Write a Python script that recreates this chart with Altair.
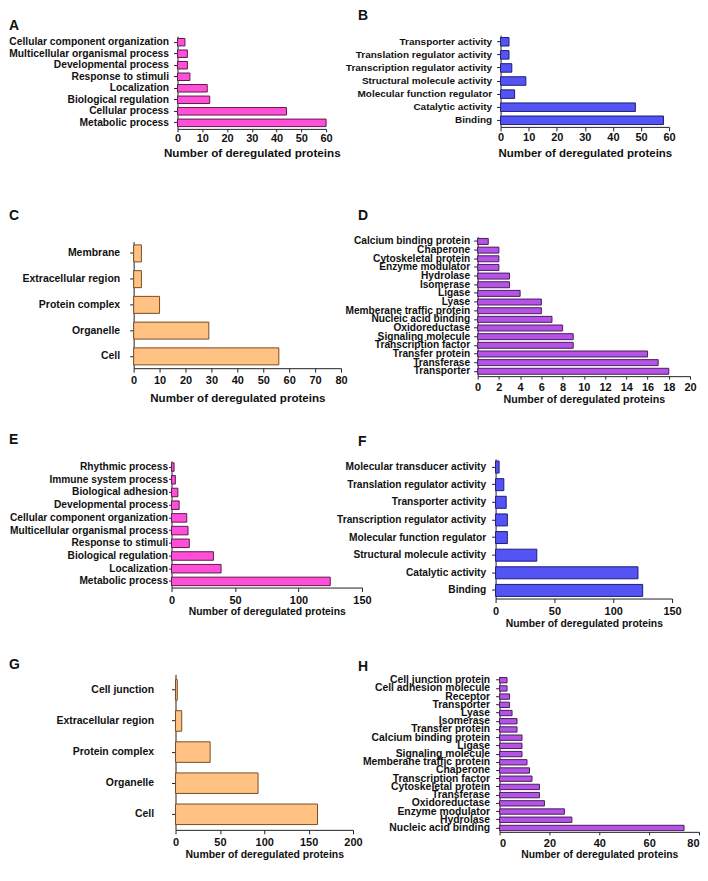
import altair as alt
import pandas as pd

# ---------------- data ----------------
a_cats = ["Cellular component organization", "Multicellular organismal process", "Developmental process",
          "Response to stimuli", "Localization", "Biological regulation", "Cellular process", "Metabolic process"]
a_vals = [3, 4, 4, 5, 12, 13, 44, 60]
a_ticks = [0, 10, 20, 30, 40, 50, 60]

b_cats = ["Transporter activity", "Translation regulator activity", "Transcription regulator activity",
          "Structural molecule activity", "Molecular function regulator", "Catalytic activity", "Binding"]
b_vals = [3, 3, 4, 9, 5, 48, 58]
b_ticks = [0, 10, 20, 30, 40, 50, 60]

c_cats = ["Membrane", "Extracellular region", "Protein complex", "Organelle", "Cell"]
c_vals = [3, 3, 10, 29, 56]
c_ticks = [0, 10, 20, 30, 40, 50, 60, 70, 80]

d_cats = ["Calcium binding protein", "Chaperone", "Cytoskeletal protein", "Enzyme modulator", "Hydrolase",
          "Isomerase", "Ligase", "Lyase", "Memberane traffic protein", "Nucleic acid binding", "Oxidoreductase",
          "Signaling molecule", "Transcription factor", "Transfer protein", "Transferase", "Transporter"]
d_vals = [1, 2, 2, 2, 3, 3, 4, 6, 6, 7, 8, 9, 9, 16, 17, 18]
d_ticks = [0, 2, 4, 6, 8, 10, 12, 14, 16, 18, 20]

e_cats = ["Rhythmic process", "Immune system process", "Biological adhesion", "Developmental process",
          "Cellular component organization", "Multicellular organismal process", "Response to stimuli",
          "Biological regulation", "Localization", "Metabolic process"]
e_vals = [2, 3, 5, 6, 12, 13, 14, 33, 39, 125]
e_ticks = [0, 50, 100, 150]

f_cats = ["Molecular transducer activity", "Translation regulator activity", "Transporter activity",
          "Transcription regulator activity", "Molecular function regulator", "Structural molecule activity",
          "Catalytic activity", "Binding"]
f_vals = [3, 7, 9, 10, 10, 35, 121, 125]
f_ticks = [0, 50, 100, 150]

g_cats = ["Cell junction", "Extracellular region", "Protein complex", "Organelle", "Cell"]
g_vals = [2, 7, 39, 93, 160]
g_ticks = [0, 50, 100, 150, 200]

h_cats = ["Cell junction protein", "Cell adhesion molecule", "Receptor", "Transporter", "Lyase", "Isomerase",
          "Transfer protein", "Calcium binding protein", "Ligase", "Signaling molecule",
          "Memberane traffic protein", "Chaperone", "Transcription factor", "Cytoskeletal protein",
          "Transferase", "Oxidoreductase", "Enzyme modulator", "Hydrolase", "Nucleic acid binding"]
h_vals = [3, 3, 4, 4, 5, 7, 7, 9, 9, 9, 11, 12, 13, 16, 16, 18, 26, 29, 74]
h_ticks = [0, 20, 40, 60, 80]

x_title_1 = "Number of deregulated proteins"
x_title_2 = "Number of deregulated  proteins"

FONT = "Liberation Sans"
PINK, PINK_S = "#FF4FD8", "#5C1A4E"
BLUE, BLUE_S = "#5454F4", "#1C1C7A"
ORANGE, ORANGE_S = "#FFC283", "#7A4B22"
PURPLE, PURPLE_S = "#B453E6", "#4A1C5C"

LEFT_W, RIGHT_W = 229, 222


def panel(letter, cats, vals, ticks, xtitle, fill, stroke, cell_w, cell_h, xr, yr, dx, dy,
          lsize=10.3, xtsize=11.5, pin=0.32, pout=0.3, tick=4, lpad=2, tpad=5, ypad=2, ytick=4,
          flush=False):
    df = pd.DataFrame({"category": cats, "value": vals})
    return alt.Chart(df).mark_bar(fill=fill, stroke=stroke, strokeWidth=1).encode(
        x=alt.X("value:Q", scale=alt.Scale(domain=[ticks[0], ticks[-1]], nice=False, range=xr),
                axis=alt.Axis(values=ticks, title=xtitle, grid=False, format="d",
                              labelFont=FONT, labelFontWeight="bold", labelFontSize=11,
                              labelColor="#111111", tickSize=tick, tickColor="#222222",
                              domainColor="#222222", labelPadding=lpad, titlePadding=tpad,
                              titleFont=FONT, titleFontWeight="bold", titleFontSize=xtsize,
                              titleColor="#111111", labelFlush=flush)),
        y=alt.Y("category:N", sort=cats,
                scale=alt.Scale(paddingInner=pin, paddingOuter=pout, range=yr),
                axis=alt.Axis(title=None, labelFont=FONT, labelFontWeight="bold", labelFontSize=lsize,
                              labelColor="#111111", labelLimit=400, tickSize=ytick, tickColor="#222222",
                              domainColor="#222222", labelPadding=ypad, offset=-xr[0])),
        tooltip=["category", "value"],
    ).properties(width=cell_w, height=cell_h,
                 title=alt.TitleParams(letter, anchor="start", frame="group", dx=dx, dy=dy, offset=0,
                                       font=FONT, fontSize=14, fontWeight="bold", color="#111111"))


# cells: left column starts at x=132, right column at x=477 (page pixels)
pA = panel("A", a_cats, a_vals, a_ticks, x_title_1, PINK, PINK_S, LEFT_W, 94, [44, 193], [1, 94],
           -125, -2, lsize=10.3, xtsize=11.7, pin=0.35, pout=0.2, tick=3, lpad=1, tpad=4, ypad=5)
pB = panel("B", b_cats, b_vals, b_ticks, x_title_1, BLUE, BLUE_S, RIGHT_W, 92, [23, 192], [0, 92],
           -120, -12, lsize=10, xtsize=11.5, pin=0.35, pout=0.18, tick=4, lpad=1, tpad=5, ypad=5)
pC = panel("C", c_cats, c_vals, c_ticks, x_title_1, ORANGE, ORANGE_S, LEFT_W, 164, [0, 208], [37, 164],
           -125, 18, lsize=10.5, xtsize=11.6, pin=0.34, pout=0.13, tick=4, lpad=2, tpad=7, ypad=10)
pD = panel("D", d_cats, d_vals, d_ticks, x_title_1, PURPLE, PURPLE_S, RIGHT_W, 172, [0, 213], [32, 172],
           -120, 18, lsize=10.2, xtsize=10.7, pin=0.31, pout=0.22, tick=3, lpad=2, tpad=2, ypad=4)
pE = panel("E", e_cats, e_vals, e_ticks, x_title_2, PINK, PINK_S, LEFT_W, 136, [38, 229], [9, 136],
           -125, -5, lsize=10.2, xtsize=10.4, pin=0.33, pout=0.15, tick=4, lpad=3, tpad=1, ypad=1, ytick=3)
pF = panel("F", f_cats, f_vals, f_ticks, x_title_2, BLUE, BLUE_S, RIGHT_W, 147, [18, 195], [7, 147],
           -120, -3, lsize=10.2, xtsize=10.4, pin=0.32, pout=0.12, tick=4, lpad=3, tpad=2, ypad=6)
pG = panel("G", g_cats, g_vals, g_ticks, x_title_2, ORANGE, ORANGE_S, LEFT_W, 156, [42, 220], [0, 156],
           -125, -2, lsize=10.5, xtsize=10.5, pin=0.34, pout=0.17, tick=4, lpad=3, tpad=2, ypad=18)
pH = panel("H", h_cats, h_vals, h_ticks, x_title_2, PURPLE, PURPLE_S, RIGHT_W, 158, [22, 222], [2, 158],
           -120, 0, lsize=10.4, xtsize=10.4, pin=0.35, pout=0.15, tick=3, lpad=3, tpad=1, ypad=6,
           flush=True)

chart = alt.concat(pA, pB, pC, pD, pE, pF, pG, pH, columns=2, bounds="flush", align="each",
                   spacing={"row": 76, "column": 116}).properties(
    padding={"left": 0, "top": 0, "right": 0, "bottom": 0}
).configure(background="white").configure_view(strokeWidth=0, stroke="transparent")

chart.save("out.html", embed_options={"renderer": "svg", "actions": False})
